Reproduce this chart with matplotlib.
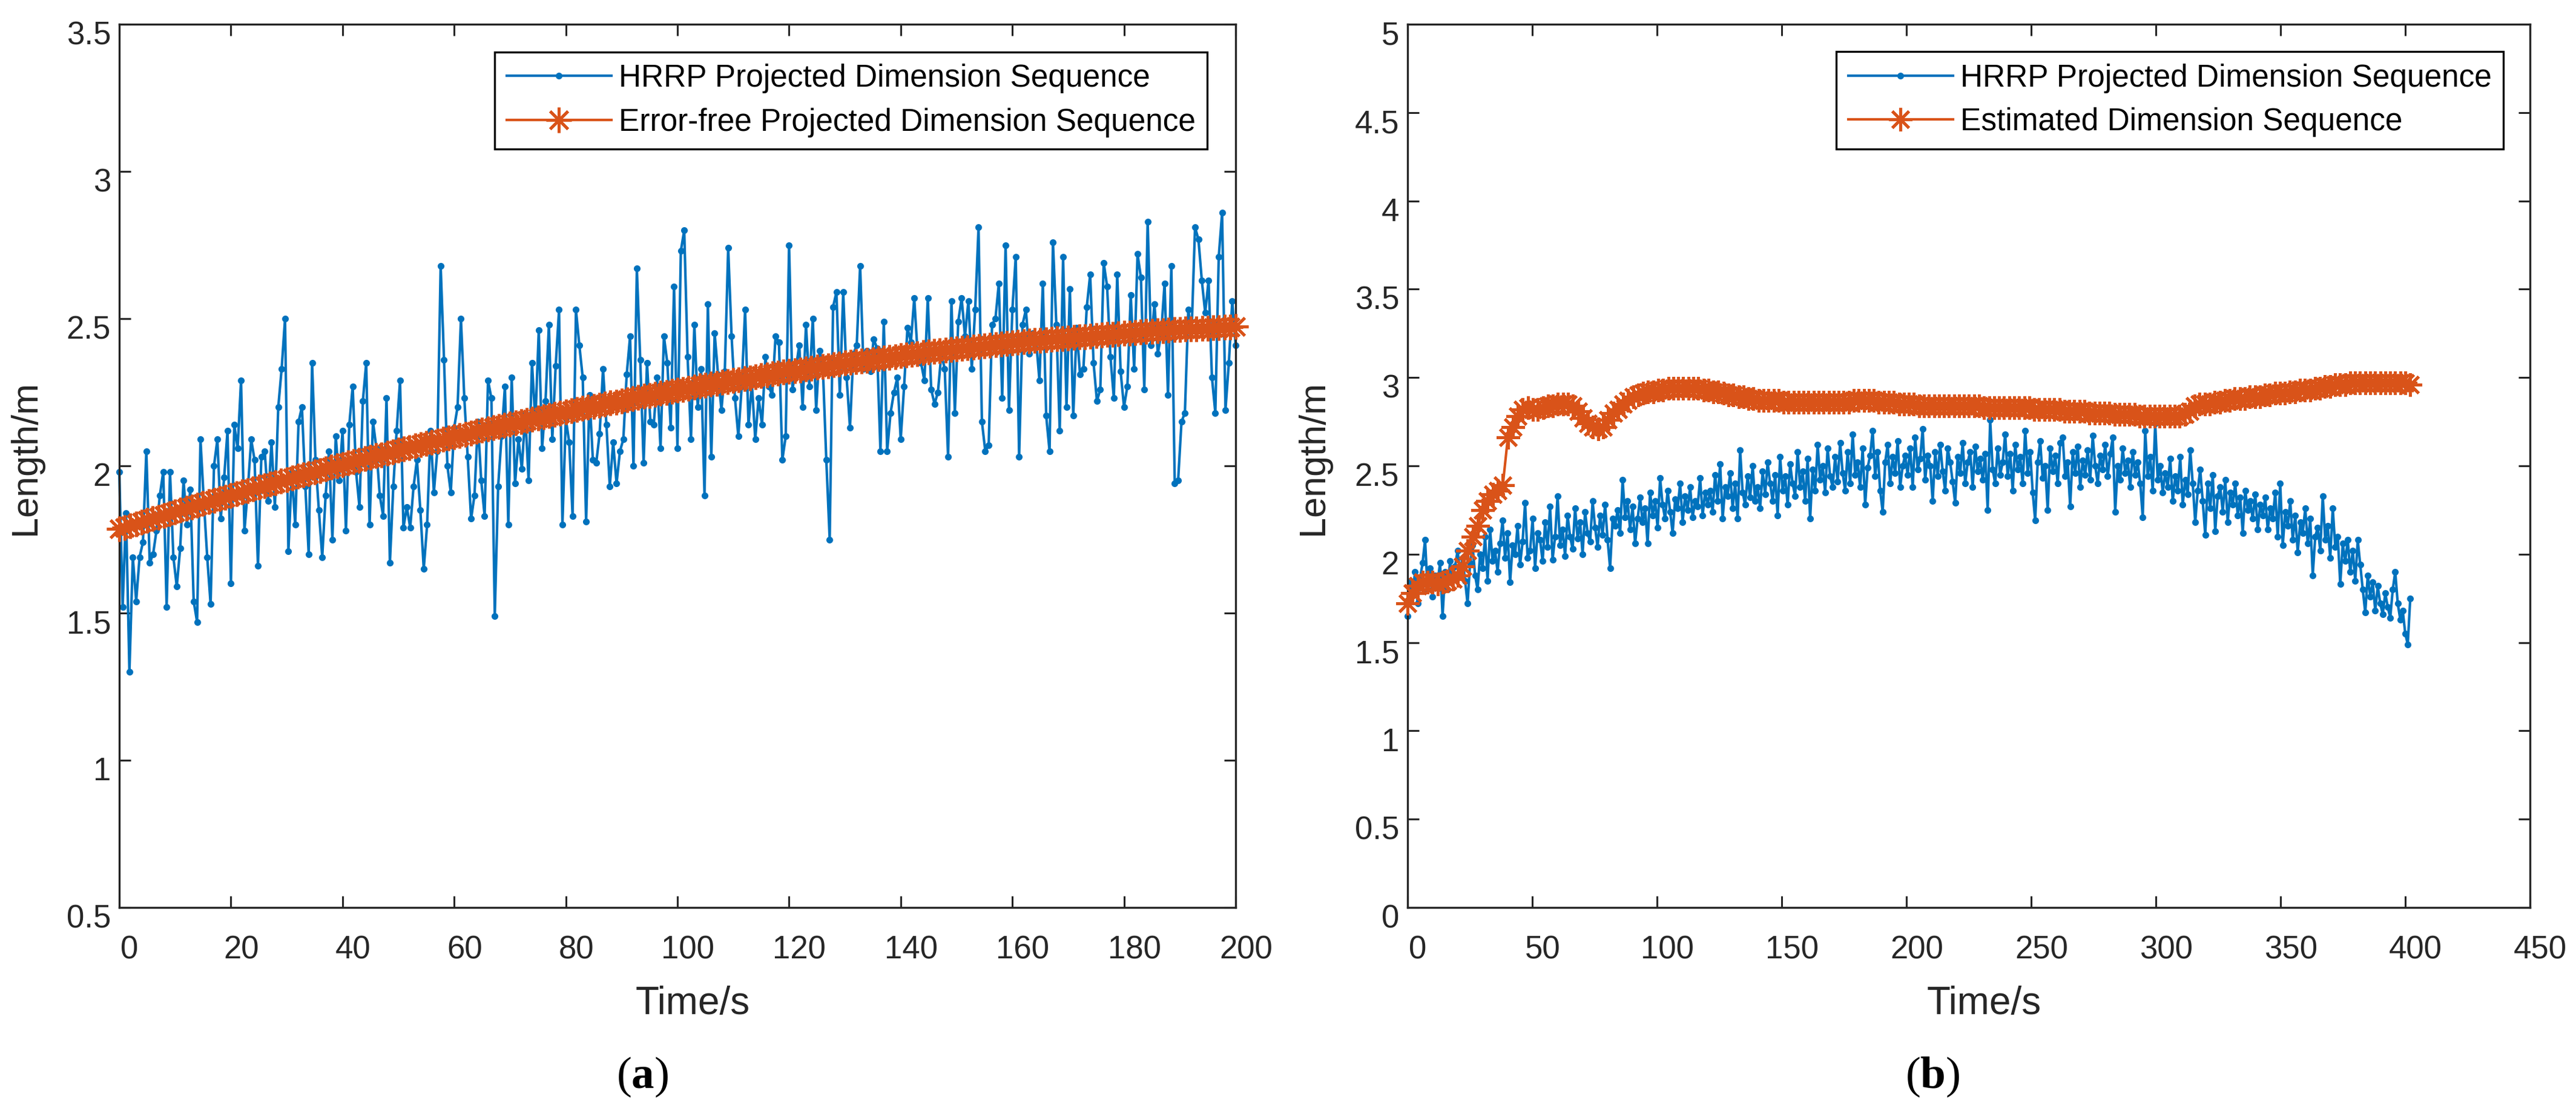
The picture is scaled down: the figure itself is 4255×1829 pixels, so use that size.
import numpy as np
import matplotlib
matplotlib.use("Agg")
import matplotlib.pyplot as plt
from matplotlib.ticker import FuncFormatter
from matplotlib.transforms import ScaledTranslation

# ---------------- data ----------------
# (a) HRRP projected dimension sequence, 0..200 s
L_blue = [
    1.98, 1.52, 1.84, 1.30, 1.69, 1.54, 1.69, 1.74, 2.05, 1.67,
    1.70, 1.78, 1.90, 1.98, 1.52, 1.98, 1.69, 1.59, 1.72, 1.95,
    1.80, 1.92, 1.54, 1.47, 2.09, 1.88, 1.69, 1.53, 2.00, 2.09,
    1.82, 1.96, 2.12, 1.60, 2.14, 2.06, 2.29, 1.78, 1.92, 2.09,
    2.02, 1.66, 2.03, 2.05, 1.88, 2.08, 1.86, 2.20, 2.33, 2.50,
    1.71, 1.98, 1.80, 2.15, 2.20, 1.93, 1.70, 2.35, 2.02, 1.85,
    1.69, 1.90, 2.05, 1.75, 2.10, 1.95, 2.12, 1.78, 2.14, 2.27,
    1.98, 1.86, 2.22, 2.35, 1.80, 2.15, 2.06, 1.90, 1.83, 2.23,
    1.67, 1.93, 2.12, 2.29, 1.79, 1.86, 1.79, 1.93, 2.02, 1.85,
    1.65, 1.80, 2.12, 1.91, 2.05, 2.68, 2.36, 2.00, 1.91, 2.13,
    2.20, 2.50, 2.23, 2.03, 1.82, 1.90, 2.15, 1.95, 1.83, 2.29,
    2.23, 1.49, 1.93, 2.10, 2.27, 1.80, 2.30, 1.94, 2.09, 1.99,
    2.18, 1.95, 2.35, 2.15, 2.46, 2.06, 2.22, 2.48, 2.09, 2.34,
    2.53,
    1.80, 2.16, 2.08, 1.83, 2.53, 2.41, 2.30, 1.81, 2.24, 2.02,
    2.01, 2.11, 2.33, 2.14, 1.93, 2.08, 1.94, 2.05, 2.09, 2.31,
    2.44, 2.00, 2.67, 2.36, 2.01, 2.35, 2.15, 2.14, 2.30, 2.06,
    2.44, 2.35, 2.13, 2.61, 2.06, 2.73, 2.80, 2.37, 2.09, 2.48,
    2.20, 2.33, 1.90, 2.55, 2.03, 2.45, 2.31, 2.19, 2.32, 2.74,
    2.44, 2.23, 2.10, 2.27, 2.53, 2.14, 2.28, 2.09, 2.23, 2.14,
    2.37, 2.27, 2.24, 2.44, 2.42, 2.02, 2.10, 2.75, 2.26, 2.33,
    2.41, 2.20, 2.48, 2.27, 2.50, 2.19, 2.39, 2.33, 2.02, 1.75,
    2.54, 2.59, 2.24, 2.59, 2.30, 2.13, 2.38, 2.41, 2.68, 2.33,
    2.39, 2.32, 2.43, 2.40, 2.05, 2.49, 2.05, 2.18, 2.25, 2.30,
    2.09, 2.27, 2.47, 2.42, 2.57, 2.38, 2.35, 2.29, 2.57, 2.26,
    2.21, 2.25, 2.38, 2.33, 2.03, 2.56, 2.18, 2.49, 2.57, 2.44,
    2.56, 2.33, 2.53, 2.81, 2.15, 2.05, 2.07, 2.48, 2.50, 2.62,
    2.23, 2.75, 2.19, 2.53, 2.71, 2.03, 2.48, 2.53, 2.38, 2.45,
    2.43, 2.29, 2.62, 2.17, 2.05, 2.76, 2.48, 2.12, 2.71, 2.20,
    2.60, 2.17, 2.47, 2.31, 2.33, 2.54, 2.65, 2.35, 2.22, 2.26,
    2.69, 2.61, 2.37, 2.23, 2.65, 2.32, 2.20, 2.27, 2.58, 2.33,
    2.72, 2.64, 2.26, 2.83, 2.41, 2.55, 2.38, 2.45, 2.62, 2.24,
    2.68, 1.94, 1.95, 2.15, 2.18, 2.53, 2.46, 2.81, 2.77, 2.63,
    2.52, 2.63, 2.30, 2.18, 2.71, 2.86, 2.19, 2.35, 2.56, 2.41,
]

# (a) error-free projected dimension sequence, every 1 s from 0 to 200 s
L_est = [
    1.785, 1.791, 1.797, 1.803, 1.809, 1.815, 1.821, 1.826, 1.832, 1.838,
    1.844, 1.849, 1.855, 1.861, 1.866, 1.872, 1.878, 1.883, 1.889, 1.894,
    1.900, 1.905, 1.911, 1.916, 1.922, 1.927, 1.932, 1.938, 1.943, 1.948,
    1.953, 1.958, 1.964, 1.969, 1.974, 1.979, 1.984, 1.989, 1.995, 2.000,
    2.005, 2.010, 2.014, 2.019, 2.024, 2.029, 2.034, 2.038, 2.043, 2.048,
    2.053, 2.057, 2.062, 2.067, 2.072, 2.076, 2.081, 2.085, 2.090, 2.094,
    2.099, 2.103, 2.108, 2.112, 2.117, 2.121, 2.125, 2.130, 2.134, 2.138,
    2.142, 2.146, 2.151, 2.155, 2.159, 2.163, 2.167, 2.171, 2.175, 2.179,
    2.183, 2.187, 2.191, 2.195, 2.199, 2.202, 2.206, 2.210, 2.214, 2.217,
    2.221, 2.225, 2.229, 2.232, 2.236, 2.239, 2.243, 2.246, 2.250, 2.253,
    2.257, 2.260, 2.264, 2.267, 2.271, 2.274, 2.277, 2.280, 2.284, 2.287,
    2.290, 2.293, 2.296, 2.299, 2.303, 2.306, 2.309, 2.312, 2.315, 2.318,
    2.321, 2.323, 2.326, 2.329, 2.332, 2.335, 2.338, 2.340, 2.343, 2.346,
    2.349, 2.351, 2.354, 2.356, 2.359, 2.361, 2.364, 2.366, 2.369, 2.371,
    2.374, 2.376, 2.379, 2.381, 2.384, 2.386, 2.388, 2.390, 2.393, 2.395,
    2.397, 2.399, 2.401, 2.403, 2.405, 2.407, 2.410, 2.411, 2.413, 2.415,
    2.417, 2.419, 2.421, 2.423, 2.425, 2.426, 2.428, 2.430, 2.432, 2.433,
    2.435, 2.436, 2.438, 2.439, 2.441, 2.443, 2.445, 2.446, 2.447, 2.448,
    2.450, 2.451, 2.453, 2.454, 2.456, 2.457, 2.458, 2.459, 2.461, 2.462,
    2.463, 2.464, 2.465, 2.466, 2.467, 2.468, 2.469, 2.470, 2.471, 2.472,
    2.473,
]

# (b) HRRP projected dimension sequence, 0..402 s
R_blue = [
    1.65, 1.85, 1.78, 1.90, 1.72, 1.86, 1.95, 2.08, 1.80, 1.92,
    1.76, 1.88, 1.84, 1.95, 1.65, 1.90, 1.80, 1.96, 1.86, 1.93,
    2.02, 1.90, 1.98, 1.85, 1.72, 1.95, 2.05, 1.88, 1.80, 2.00,
    1.92, 2.10, 1.85, 2.14, 1.96, 2.02, 1.90, 2.06, 2.19, 1.98,
    2.12, 1.84, 2.05, 2.00, 2.16, 1.94, 2.07, 2.29, 1.98, 2.02,
    2.20, 1.92, 2.12, 2.08, 1.96, 2.18, 2.04, 2.27, 1.97, 2.10,
    2.33, 2.05, 2.14, 1.99, 2.22, 2.10, 2.03, 2.26, 2.09, 2.18,
    2.00, 2.24, 2.12, 2.07, 2.30, 2.15, 2.04, 2.22, 2.11, 2.28,
    2.08, 1.92, 2.20, 2.16, 2.25, 2.12, 2.42, 2.21, 2.30, 2.14,
    2.27, 2.06, 2.20, 2.32, 2.18, 2.26, 2.06, 2.35, 2.22, 2.30,
    2.15, 2.43, 2.28, 2.20, 2.36, 2.24, 2.12, 2.31, 2.26, 2.40,
    2.18, 2.33, 2.25, 2.38, 2.21, 2.30, 2.27, 2.43, 2.22, 2.35,
    2.28, 2.36, 2.24, 2.45, 2.30, 2.51, 2.20, 2.38, 2.33, 2.46,
    2.26, 2.40, 2.20, 2.59, 2.35, 2.28, 2.44, 2.32, 2.50, 2.30,
    2.38, 2.26, 2.47, 2.34, 2.52, 2.40, 2.30, 2.45, 2.22, 2.55,
    2.36, 2.44, 2.28, 2.51, 2.40, 2.33, 2.58, 2.38, 2.47, 2.30,
    2.54, 2.20, 2.48, 2.36, 2.62, 2.42, 2.50, 2.35, 2.60, 2.44,
    2.38, 2.55, 2.41, 2.63, 2.46, 2.36, 2.58, 2.40, 2.68, 2.45,
    2.52, 2.38, 2.60, 2.28, 2.49, 2.56, 2.70, 2.44, 2.58, 2.36,
    2.24, 2.52, 2.62, 2.40, 2.55, 2.46, 2.64, 2.38, 2.50, 2.56,
    2.45, 2.60, 2.38, 2.66, 2.48, 2.54, 2.71, 2.42, 2.56, 2.50,
    2.30, 2.58, 2.44, 2.62, 2.47, 2.36, 2.60, 2.52, 2.41, 2.29,
    2.55, 2.46, 2.63, 2.40, 2.52, 2.58, 2.38, 2.61, 2.47, 2.54,
    2.42, 2.57, 2.25, 2.76, 2.48, 2.40, 2.60, 2.45, 2.52, 2.68,
    2.44, 2.57, 2.36, 2.62, 2.48, 2.55, 2.40, 2.70, 2.46, 2.58,
    2.35, 2.19, 2.52, 2.64, 2.43, 2.50, 2.25, 2.60, 2.47, 2.56,
    2.40, 2.63, 2.66, 2.44, 2.52, 2.27, 2.58, 2.46, 2.61, 2.38,
    2.53, 2.45, 2.59, 2.42, 2.67, 2.50, 2.40, 2.56, 2.48, 2.62,
    2.44, 2.57, 2.66, 2.24, 2.50, 2.42, 2.60, 2.46, 2.53, 2.38,
    2.58, 2.45, 2.52, 2.40, 2.21, 2.70, 2.44, 2.55, 2.36, 2.74,
    2.42, 2.50, 2.35, 2.46, 2.38, 2.54, 2.30, 2.44, 2.36, 2.55,
    2.28, 2.42, 2.34, 2.59, 2.40, 2.18, 2.36, 2.48, 2.30, 2.11,
    2.40, 2.26, 2.45, 2.13, 2.33, 2.38, 2.24, 2.42, 2.18, 2.35,
    2.28, 2.40, 2.22, 2.32, 2.12, 2.36, 2.25, 2.30, 2.20, 2.34,
    2.14, 2.28, 2.22, 2.32, 2.14, 2.26, 2.20, 2.35, 2.10, 2.40,
    2.05, 2.24, 2.16, 2.30, 2.08, 2.22, 2.01, 2.18, 2.12, 2.26,
    2.06, 2.20, 1.88, 2.10, 2.15, 2.02, 2.33, 2.08, 2.16, 1.98,
    2.26, 2.04, 2.10, 1.83, 2.06, 1.96, 2.08, 1.90, 2.02, 1.85,
    2.08, 1.94, 1.80, 1.67, 1.88, 1.76, 1.84, 1.68, 1.82, 1.72,
    1.66, 1.78, 1.70, 1.64, 1.80, 1.90, 1.72, 1.63, 1.68, 1.55,
    1.49, 1.75,
]

# (b) estimated dimension sequence, every 2 s
R_est = [
    1.72, 1.78, 1.82, 1.84, 1.84, 1.84, 1.83, 1.84, 1.85, 1.86,
    1.88, 1.93, 2.02, 2.10, 2.16, 2.25, 2.30, 2.34, 2.36, 2.39,
    2.66, 2.72, 2.78, 2.82, 2.83, 2.82, 2.82, 2.83, 2.84, 2.84,
    2.85, 2.85, 2.85, 2.84, 2.81, 2.77, 2.74, 2.72, 2.71, 2.72,
    2.76, 2.80, 2.82, 2.85, 2.87, 2.89, 2.90, 2.91, 2.92, 2.92,
    2.93, 2.93, 2.94, 2.94, 2.94, 2.94, 2.94, 2.94, 2.94, 2.93,
    2.93, 2.92, 2.92, 2.91, 2.90, 2.90, 2.89, 2.89, 2.88, 2.88,
    2.87, 2.87, 2.87, 2.87, 2.87, 2.86, 2.86, 2.86, 2.86, 2.86,
    2.86, 2.86, 2.86, 2.86, 2.86, 2.86, 2.86, 2.86, 2.86, 2.87,
    2.87, 2.87, 2.87, 2.87, 2.86, 2.86, 2.86, 2.86, 2.85, 2.85,
    2.85, 2.85, 2.84, 2.84, 2.84, 2.84, 2.84, 2.84, 2.84, 2.84,
    2.84, 2.84, 2.84, 2.84, 2.84, 2.83, 2.83, 2.83, 2.83, 2.83,
    2.83, 2.83, 2.83, 2.83, 2.83, 2.82, 2.82, 2.82, 2.82, 2.82,
    2.82, 2.81, 2.81, 2.81, 2.81, 2.81, 2.80, 2.80, 2.80, 2.80,
    2.80, 2.79, 2.79, 2.79, 2.79, 2.79, 2.78, 2.78, 2.78, 2.78,
    2.78, 2.78, 2.78, 2.78, 2.78, 2.79, 2.81, 2.84, 2.85, 2.85,
    2.85, 2.86, 2.86, 2.87, 2.87, 2.88, 2.88, 2.88, 2.89, 2.89,
    2.89, 2.90, 2.90, 2.91, 2.91, 2.91, 2.92, 2.92, 2.93, 2.93,
    2.93, 2.94, 2.94, 2.95, 2.95, 2.96, 2.96, 2.96, 2.97, 2.97,
    2.97, 2.97, 2.97, 2.97, 2.97, 2.97, 2.97, 2.97, 2.97, 2.97,
    2.96,
]

L_xticks = [0, 20, 40, 60, 80, 100, 120, 140, 160, 180, 200]
L_yticks = [0.5, 1.0, 1.5, 2.0, 2.5, 3.0, 3.5]
R_xticks = [0, 50, 100, 150, 200, 250, 300, 350, 400, 450]
R_yticks = [0.0, 0.5, 1.0, 1.5, 2.0, 2.5, 3.0, 3.5, 4.0, 4.5, 5.0]

L_labels = ["HRRP Projected Dimension Sequence", "Error-free Projected Dimension Sequence"]
R_labels = ["HRRP Projected Dimension Sequence", "Estimated Dimension Sequence"]

# ---------------- style ----------------
BLUE = "#0072BD"
ORANGE = "#D95319"
INK = "#262626"

plt.rcParams["font.family"] = ["Liberation Sans", "DejaVu Sans"]
plt.rcParams["mathtext.fontset"] = "custom"
plt.rcParams["mathtext.rm"] = "Liberation Serif"
plt.rcParams["mathtext.bf"] = "Liberation Serif:bold"

W, H = 4255, 1829
fig = plt.figure(figsize=(W / 100, H / 100), dpi=100)
fig.patch.set_facecolor("white")
axL = fig.add_axes([197 / W, (H - 1498) / H, 1844 / W, 1458 / H])
axR = fig.add_axes([2325 / W, (H - 1498) / H, 1854 / W, 1458 / H])

tL_blue = np.linspace(0, 200, len(L_blue))
tL_est = np.linspace(0, 200, len(L_est))
tR_blue = np.linspace(0, 402, len(R_blue))
tR_est = np.linspace(0, 402, len(R_est))

asterisk = (8, 2, 0)

def draw(ax, tb, yb, te, ye, labels, ms):
    ax.plot(tb, yb, color=BLUE, lw=3, marker="o", ms=7, mfc=BLUE, mec=BLUE,
            label=labels[0], clip_on=False, zorder=2)
    ax.plot(te, ye, color=ORANGE, lw=3, marker=asterisk, ms=ms, mew=3.5,
            mec=ORANGE, label=labels[1], clip_on=False, zorder=3)

draw(axL, tL_blue, L_blue, tL_est, L_est, L_labels, 30)
draw(axR, tR_blue, R_blue, tR_est, R_est, R_labels, 28)

fmt = FuncFormatter(lambda v, p: f"{v:g}")
x_shift = ScaledTranslation(0.17, 0, fig.dpi_scale_trans)
y_shift = ScaledTranslation(0, -0.14, fig.dpi_scale_trans)

def style(ax, xticks, yticks, legend_anchor):
    ax.set_xlim(xticks[0], xticks[-1])
    ax.set_ylim(yticks[0], yticks[-1])
    ax.set_xticks(xticks)
    ax.set_yticks(yticks)
    ax.xaxis.set_major_formatter(fmt)
    ax.yaxis.set_major_formatter(fmt)
    for s in ax.spines.values():
        s.set_linewidth(2.4)
        s.set_color(INK)
    ax.tick_params(direction="in", length=14, width=2.2, colors=INK,
                   labelsize=38, top=True, right=True)
    ax.tick_params(axis="x", pad=33)
    ax.tick_params(axis="y", pad=10)
    for lab in ax.get_xticklabels():
        lab.set_transform(lab.get_transform() + x_shift)
    for lab in ax.get_yticklabels():
        lab.set_transform(lab.get_transform() + y_shift)
    ax.set_xlabel("Time/s", fontsize=46, color=INK)
    ax.set_ylabel("Length/m", fontsize=44, color=INK)
    ax.xaxis.set_label_coords(0.5138, -0.1207)
    ax.xaxis.label.set_va("baseline")
    ax.yaxis.set_label_coords(-0.084, 0.509)
    ax.yaxis.label.set_va("center")
    leg = ax.legend(loc="upper right", bbox_to_anchor=legend_anchor,
                    borderaxespad=0, fontsize=37, frameon=True, fancybox=False,
                    edgecolor="black", framealpha=1, handlelength=3.37,
                    handletextpad=0.23, borderpad=0.38, labelspacing=0.46,
                    numpoints=1)
    leg.get_frame().set_linewidth(2.4)
    for t in leg.get_texts():
        t.set_color("black")

style(axL, L_xticks, L_yticks, (0.9745, 0.9687))
style(axR, R_xticks, R_yticks, (0.9763, 0.969))

fig.text(1061 / W, 1 - 1796 / H, r"($\mathbf{a}$)", fontsize=54,
         family="Liberation Serif", ha="center", va="baseline", color="black")
fig.text(3192 / W, 1 - 1796 / H, r"($\mathbf{b}$)", fontsize=54,
         family="Liberation Serif", ha="center", va="baseline", color="black")

fig.savefig("out.png", dpi=100, facecolor="white")
